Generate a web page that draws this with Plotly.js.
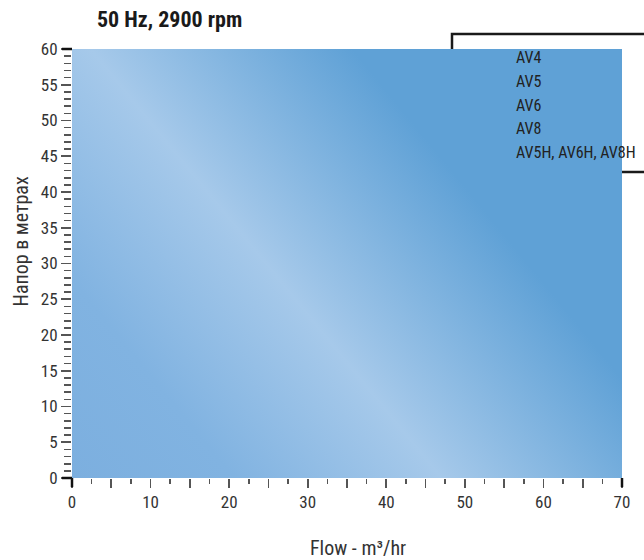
<!DOCTYPE html>
<html>
<head>
<meta charset="utf-8">
<script src="https://cdn.plot.ly/plotly-3.0.1.min.js"></script>
<style>html,body{margin:0;padding:0;background:#fff;}#chart{width:644px;height:560px;}</style>
</head>
<body>
<div id="chart"></div>
<script>
// ---- chart content ----
const chartTitle = "50 Hz, 2900 rpm";
const xAxisTitle = "Flow - m³/hr";
const yAxisTitle = "Напор в метрах";
const xRange = [0, 70];
const yRange = [0, 60];
const xTickVals = [0, 5, 10, 15, 20, 25, 30, 35, 40, 45, 50, 55, 60, 65, 70];
const xTickText = ["0", "", "10", "", "20", "", "30", "", "40", "", "50", "", "60", "", "70"];
const yTickVals = [0, 5, 10, 15, 20, 25, 30, 35, 40, 45, 50, 55, 60];
const yTickText = ["0", "5", "10", "15", "20", "25", "30", "35", "40", "45", "50", "55", "60"];
const seriesNames = ["AV4", "AV5", "AV6", "AV8", "AV5H, AV6H, AV8H"];

// ---- styling ----
const FONT = "'Liberation Sans Narrow', 'Arial Narrow', 'Roboto Condensed', 'DejaVu Sans Condensed', sans-serif";
const W = 644, H = 560;
const L = 72, R = 22, T = 49, B = 82;
const PW = W - L - R, PH = H - T - B;

// diagonal gradient background for plot area
const svg = '<svg xmlns="http://www.w3.org/2000/svg" width="550" height="429" viewBox="0 0 550 429" preserveAspectRatio="none">' +
  '<defs><linearGradient id="g" gradientUnits="userSpaceOnUse" x1="0" y1="429" x2="540" y2="-13">' +
  '<stop offset="0" stop-color="#7cafdf"/>' +
  '<stop offset="0.18" stop-color="#81b3e1"/>' +
  '<stop offset="0.41" stop-color="#a6c9ea"/>' +
  '<stop offset="0.70" stop-color="#5fa1d6"/>' +
  '<stop offset="1" stop-color="#5fa1d6"/>' +
  '</linearGradient></defs><rect x="0" y="0" width="550" height="429" fill="url(#g)"/></svg>';
const bgSrc = "data:image/svg+xml;charset=utf-8," + encodeURIComponent(svg);

const px2x = p => (p - L) / PW;
const px2y = p => (H - B - p) / PH;

const annotations = seriesNames.map((name, i) => ({
  text: name,
  xref: "paper", yref: "paper",
  x: px2x(514), y: px2y(58 + i * 23.5),
  xanchor: "left", yanchor: "middle",
  showarrow: false,
  font: {family: FONT, size: 16, color: "#222"}
}));
annotations.push({
  text: yAxisTitle, xref: "paper", yref: "paper",
  x: px2x(21), y: px2y(241.5), xanchor: "center", yanchor: "middle",
  textangle: -90, showarrow: false,
  font: {family: FONT, size: 20, color: "#333"}
});
annotations.push({
  text: xAxisTitle, xref: "paper", yref: "paper",
  x: px2x(358), y: px2y(548), xanchor: "center", yanchor: "middle",
  showarrow: false,
  font: {family: FONT, size: 20, color: "#333"}
});

// dark end ticks
const endTick = (x0, y0, x1, y1) => ({type: "line", xref: "paper", yref: "paper",
  x0: px2x(x0), y0: px2y(y0), x1: px2x(x1), y1: px2y(y1),
  line: {color: "#111", width: 2.5}, layer: "above"});

const layout = {
  width: W, height: H,
  margin: {l: L, r: R, t: T, b: B, pad: 0},
  paper_bgcolor: "#ffffff",
  plot_bgcolor: "rgba(0,0,0,0)",
  showlegend: false,
  title: {
    text: "<b>" + chartTitle + "</b>",
    xref: "container", yref: "container",
    x: 97 / W, xanchor: "left",
    y: 1 - 19 / H, yanchor: "middle",
    font: {family: FONT, size: 22, color: "#1a1a1a"}
  },
  xaxis: {
    range: xRange, fixedrange: true,
    showgrid: false, zeroline: false, showline: false,
    tickmode: "array", tickvals: xTickVals, ticktext: xTickText,
    ticks: "outside", ticklen: 9, tickwidth: 1.6, tickcolor: "#555",
    tickfont: {family: FONT, size: 17, color: "#333"},
    minor: {tickmode: "linear", tick0: 0, dtick: 2.5, ticks: "outside", ticklen: 5, tickwidth: 1.6, tickcolor: "#555", showgrid: false}
  },
  yaxis: {
    range: yRange, fixedrange: true,
    showgrid: false, zeroline: false, showline: false,
    tickmode: "array", tickvals: yTickVals, ticktext: yTickText,
    ticks: "outside", ticklen: 10, tickwidth: 1.6, tickcolor: "#555",
    tickfont: {family: FONT, size: 17, color: "#333"},
    minor: {tickmode: "linear", tick0: 0, dtick: 1, ticks: "outside", ticklen: 7, tickwidth: 1.6, tickcolor: "#555", showgrid: false}
  },
  shapes: [
    {type: "rect", xref: "paper", yref: "paper", layer: "below",
     x0: px2x(452), x1: px2x(680), y0: px2y(172), y1: px2y(34),
     line: {color: "#1a1a1a", width: 2.5}, fillcolor: "#ffffff"},
    endTick(62, 49, 72, 49),
    endTick(62, 478, 72, 478),
    endTick(72, 478, 72, 487),
    endTick(622, 478, 622, 487)
  ],
  images: [
    {source: bgSrc, xref: "paper", yref: "paper", x: 0, y: 1, sizex: 1, sizey: 1,
     xanchor: "left", yanchor: "top", sizing: "stretch", layer: "above"}
  ],
  annotations: annotations
};

Plotly.newPlot("chart", [], layout, {displayModeBar: false, staticPlot: true});
</script>
</body>
</html>
